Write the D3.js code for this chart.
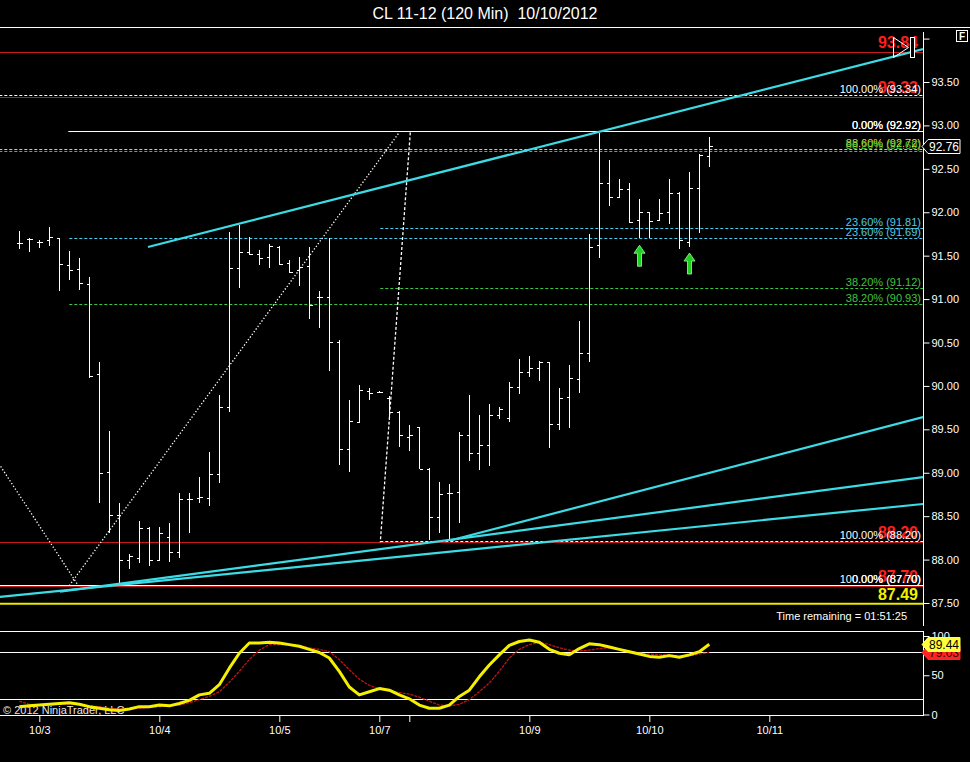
<!DOCTYPE html>
<html>
<head>
<meta charset="utf-8">
<title>CL 11-12 (120 Min) 10/10/2012</title>
<script src="https://cdn.jsdelivr.net/npm/d3@7"></script>
<style>
  body { margin: 0; background: #000; }
  svg { display: block; font-family: Arial, "Liberation Sans", sans-serif; }
</style>
</head>
<body>
<svg id="chart" width="970" height="762"></svg>
<script>
// 120 min OHLC bars (bar 0 = first visible bar)
const opens  = [91.65,91.69,91.66,91.68,91.70,91.39,91.35,91.17,90.14,89.01,
                88.51,87.99,88.02,88.36,88.00,88.26,88.09,88.70,88.71,88.71,
                88.99,89.76,91.36,91.54,91.52,91.48,91.60,91.42,91.33,91.38,
                91.02,91.02,90.51,89.27,89.58,89.94,89.93,89.86,89.70,89.41,
                89.53,89.04,88.49,88.77,88.78,89.44,89.23,89.32,89.66,89.63,
                89.99,90.16,90.21,90.27,89.56,89.87,90.08,90.38,91.62,92.34,
                92.18,92.27,91.91,92.00,91.91,92.00,92.22,91.66,92.28,92.65];
const highs  = [91.78,91.70,91.68,91.83,91.70,91.55,91.47,91.25,90.28,89.48,
                88.65,88.06,88.44,88.37,88.37,88.42,88.77,88.77,88.95,89.24,
                89.90,91.77,91.85,91.72,91.57,91.63,91.61,91.45,91.48,91.60,
                91.09,91.70,90.53,89.84,90.01,89.98,89.94,89.88,89.71,89.55,
                89.53,89.05,88.89,88.87,89.47,89.90,89.66,89.79,89.76,90.05,
                90.31,90.34,90.29,90.28,89.98,90.24,90.75,91.75,92.91,92.60,
                92.38,92.34,92.15,92.00,92.15,92.38,92.23,92.46,92.67,92.87];
const lows   = [91.58,91.54,91.59,91.61,91.09,91.22,91.10,90.09,88.65,88.31,
                87.72,87.89,87.96,87.93,87.98,87.97,88.02,88.31,88.65,88.62,
                88.88,89.70,91.13,91.51,91.39,91.36,91.39,91.30,91.15,90.77,
                90.67,90.17,89.09,89.01,89.58,89.84,89.92,89.61,89.30,89.25,
                89.04,88.23,88.31,88.22,88.42,89.13,89.03,89.08,89.62,89.58,
                89.91,90.10,90.06,89.29,89.49,89.52,89.92,90.28,91.47,92.07,
                92.16,91.88,91.70,91.70,91.90,91.86,91.58,91.60,91.76,92.52];
const closes = [91.65,91.69,91.66,91.71,91.40,91.33,91.18,90.11,89.00,88.51,
                87.99,88.04,88.36,87.99,88.31,88.09,88.70,88.70,88.72,88.99,
                89.76,91.36,91.54,91.52,91.47,91.61,91.40,91.31,91.37,90.93,
                91.02,90.51,89.27,89.60,89.95,89.92,89.93,89.70,89.43,89.43,
                89.04,88.49,88.76,88.77,89.43,89.23,89.32,89.66,89.73,89.99,
                90.16,90.21,90.27,89.56,89.86,90.09,90.38,91.60,92.34,92.18,
                92.27,91.89,92.00,91.90,91.99,92.22,91.68,92.28,92.66,92.76];

// stochastics panel
const stochK = [10,11,12,13,14,15,13,10,8,6,
                5,7,10,10,12,11,14,18,25,27,
                38,59,78,91,91,92,91,89,87,83,
                79,72,55,35,25,29,33,31,25,20,
                12,8,8,12,23,31,48,63,76,88,
                93,95,92,83,78,76,84,90,89,86,
                83,80,77,74,73,75,73,76,80,89.44];
const stochD = [17,13,12,12,13,13.5,13,11,10,8,
                7,7,8,9,10,11,12,15,19,23,
                29,41,55,70,82,89,89,89,87,85,
                83,80,70,57,45,37,33,30,28,26,
                22,17,12,11,13,19,29,40,55,72,
                83,89,92,89,85,82,81,82,84,85,
                83,81,78,77,76,76,74.5,74.5,77,79.03];
const stochLevels = [20, 80];

const dateTicks  = [2, 14, 26, 36, 39, 51, 63, 75];
const dateLabels = ["10/3", "10/4", "10/5", "10/7", "", "10/9", "10/10", "10/11"];
const priceTicks = [87.5, 88, 88.5, 89, 89.5, 90, 90.5, 91, 91.5, 92, 92.5, 93, 93.5, 94];
const stochTicks = [0, 50, 100];

// drawing objects, anchors are [bar, price]
const trendLines = [
  [[12.87, 91.60], [90.37, 93.88]],
  [[43.07, 88.22], [90.37, 89.64]],
  [[4.07, 87.63], [90.37, 88.95]],
  [[-1.93, 87.57], [90.37, 88.64]]
];
const fibAnchors = [
  [[-26, 93.34], [5.9, 87.70]],
  [[5.0, 87.70], [38.0, 92.92]],
  [[39.1, 92.92], [36.1, 88.20]]
];
const fibLevels = [
  [[93.34, "100.00%"], [92.72, "88.60%"], [92.69, "88.20%"], [87.70, "0.00%"]],
  [[92.92, "0.00%"], [91.69, "23.60%"], [90.93, "38.20%"], [87.70, "100.00%"]],
  [[92.92, "0.00%"], [91.81, "23.60%"], [91.12, "38.20%"], [88.20, "100.00%"]]
];
const redLevels = [93.84, 93.33, 88.20, 87.70];
const whiteLevels = [[92.92, 4.9], [87.70, -30]];
const yellowLevel = 87.49;
const arrowsUp = [[62, 91.62], [67, 91.53]];
const lastPrice = 92.76;
const timeRemaining = "01:51:25";

const W = 970, axisX = 923;
const svg = d3.select("#chart");
svg.append("rect").attr("width", W).attr("height", 762).attr("fill", "#000");

const x = d3.scaleLinear().domain([0, 69]).range([19.3, 709.3]);
const y = d3.scaleLinear().domain([87.5, 93.5]).range([603, 82]);
const ys = d3.scaleLinear().domain([0, 100]).range([714.5, 636]);
const py = v => Math.round(y(v)) + 0.5;

const defs = svg.append("defs");
defs.append("clipPath").attr("id", "pclip").append("rect")
    .attr("x", 0).attr("y", 28).attr("width", axisX).attr("height", 598);
defs.append("clipPath").attr("id", "sclip").append("rect")
    .attr("x", 0).attr("y", 632).attr("width", axisX).attr("height", 83);

const pct = {"0.00%": "#ffffff", "100.00%": "#ffffff", "23.60%": "#4ccbea",
             "38.20%": "#3fc43f", "88.60%": "#d8dc3a", "88.20%": "#3fc43f"};

// title and frame
svg.append("text").attr("x", 485).attr("y", 19).attr("text-anchor", "middle")
    .attr("fill", "#fff").style("font-size", "16px").style("white-space", "pre")
    .text("CL 11-12 (120 Min)  10/10/2012");
svg.append("line").attr("x1", 0).attr("x2", W).attr("y1", 27.5).attr("y2", 27.5)
    .attr("stroke", "#fff");
svg.append("rect").attr("x", 956.5).attr("y", 30.5).attr("width", 11).attr("height", 11)
    .attr("fill", "#000").attr("stroke", "#fff");
svg.append("text").attr("x", 962).attr("y", 40).attr("text-anchor", "middle")
    .attr("fill", "#fff").style("font-size", "10px").style("font-weight", "bold").text("F");

const pp = svg.append("g").attr("clip-path", "url(#pclip)");

pp.selectAll(".red").data(redLevels).join("line")
    .attr("x1", 0).attr("x2", axisX)
    .attr("y1", d => py(d)).attr("y2", d => py(d))
    .attr("stroke", "#c41a1a");
pp.append("line").attr("x1", 0).attr("x2", axisX)
    .attr("y1", y(yellowLevel)).attr("y2", y(yellowLevel))
    .attr("stroke", "#e8e800").attr("stroke-width", 2);

// fib horizontals
fibLevels.forEach((lv, k) => {
  const x0 = x(Math.min(fibAnchors[k][0][0], fibAnchors[k][1][0]));
  pp.selectAll(".fl" + k).data(lv).join("line")
      .attr("x1", x0).attr("x2", axisX)
      .attr("y1", d => py(d[0]) - 1).attr("y2", d => py(d[0]) - 1)
      .attr("stroke", d => pct[d[1]]).attr("stroke-dasharray", "3,2");
});
pp.selectAll(".wl").data(whiteLevels).join("line")
    .attr("x1", d => x(d[1])).attr("x2", axisX)
    .attr("y1", d => py(d[0]) - 1).attr("y2", d => py(d[0]) - 1)
    .attr("stroke", "#fff");

// OHLC bars
const bars = pp.append("g").attr("stroke", "#fff").attr("shape-rendering", "crispEdges");
opens.forEach((o, i) => {
  const cx = Math.round(x(i)) + 0.5;
  bars.append("line").attr("x1", cx).attr("x2", cx).attr("y1", y(highs[i])).attr("y2", y(lows[i]));
  bars.append("line").attr("x1", cx - 3).attr("x2", cx).attr("y1", py(o)).attr("y2", py(o));
  bars.append("line").attr("x1", cx).attr("x2", cx + 3).attr("y1", py(closes[i])).attr("y2", py(closes[i]));
});

// fib diagonals
pp.selectAll(".fd").data(fibAnchors).join("line")
    .attr("x1", d => x(d[0][0])).attr("y1", d => y(d[0][1]))
    .attr("x2", d => x(d[1][0])).attr("y2", d => y(d[1][1]))
    .attr("stroke", "#fff").attr("stroke-width", 1.3)
    .attr("stroke-dasharray", (d, i) => i === 2 ? "3,2" : "1.3,2");

// trend lines
pp.selectAll(".tl").data(trendLines).join("line")
    .attr("x1", d => x(d[0][0])).attr("y1", d => y(d[0][1]))
    .attr("x2", d => x(d[1][0])).attr("y2", d => y(d[1][1]))
    .attr("stroke", "#3cdce6").attr("stroke-width", 2.2);

// arrows
pp.selectAll(".ar").data(arrowsUp).join("path")
    .attr("transform", d => `translate(${Math.round(x(d[0])) + 0.5},${y(d[1])})`)
    .attr("d", "M0,0L5.5,8L2,8L2,21L-2,21L-2,8L-5.5,8Z")
    .attr("fill", "#1fcf1f").attr("stroke", "#9dff9d").attr("stroke-width", 0.8);

// labels
const lbl = pp.append("g").attr("text-anchor", "end");
lbl.selectAll(".rl").data(redLevels).join("text")
    .attr("x", 918).attr("y", d => y(d) - 4)
    .attr("fill", "#ff1e1e").style("font-size", "16px").style("font-weight", "bold")
    .text(d => d.toFixed(2));
fibLevels.forEach((lv, k) => {
  lbl.selectAll(".ft" + k).data(lv).join("text")
      .attr("x", 921).attr("y", d => y(d[0]) - 3)
      .attr("fill", d => pct[d[1]]).style("font-size", "11px")
      .text(d => d[1] + " (" + d[0].toFixed(2) + ")");
});
lbl.append("text").attr("x", 918).attr("y", y(yellowLevel) - 4)
    .attr("fill", "#f0f000").style("font-size", "16px").style("font-weight", "bold")
    .text(yellowLevel.toFixed(2));
lbl.append("text").attr("x", 907).attr("y", 620).attr("fill", "#fff")
    .style("font-size", "11px").text("Time remaining = " + timeRemaining);

// scroll markers at top right
pp.append("path").attr("d", "M893.5,37.5L908.5,47.5L893.5,57.5Z")
    .attr("fill", "none").attr("stroke", "#fff");
pp.append("rect").attr("x", 910.5).attr("y", 37.5).attr("width", 4).attr("height", 20)
    .attr("fill", "#000").attr("stroke", "#fff");

// price axis
svg.append("line").attr("x1", axisX + 0.5).attr("x2", axisX + 0.5).attr("y1", 32).attr("y2", 626)
    .attr("stroke", "#fff");
const pa = svg.append("g").attr("transform", `translate(${axisX + 0.5},0)`)
    .call(d3.axisRight(y).tickValues(priceTicks).tickSize(6).tickPadding(2)
      .tickFormat(d => d > 93.9 ? "" : d3.format(".2f")(d)));
pa.select(".domain").remove();
pa.selectAll("line").attr("stroke", "#fff");
pa.selectAll("text").attr("fill", "#fff").style("font-size", "11px").style("font-family", "Arial, 'Liberation Sans', sans-serif");

function marker(yy, fill, stroke, txtFill, txt) {
  const g = svg.append("g");
  g.append("path")
      .attr("d", `M${axisX - 1},${yy}L${axisX + 5},${yy - 7}L960,${yy - 7}L960,${yy + 7}L${axisX + 5},${yy + 7}Z`)
      .attr("fill", fill).attr("stroke", stroke);
  g.append("text").attr("x", axisX + 6).attr("y", yy + 4).attr("fill", txtFill)
      .style("font-size", "12px").text(txt);
}
marker(py(lastPrice), "#000", "#fff", "#fff", lastPrice.toFixed(2));

// stochastics panel
[631.5, 715.5].forEach(v => svg.append("line").attr("x1", 0).attr("x2", axisX)
    .attr("y1", v).attr("y2", v).attr("stroke", "#fff"));
svg.selectAll(".sl").data(stochLevels).join("line")
    .attr("x1", 0).attr("x2", axisX)
    .attr("y1", d => Math.round(ys(d)) + 0.5).attr("y2", d => Math.round(ys(d)) + 0.5)
    .attr("stroke", "#fff");
svg.append("text").attr("x", 3).attr("y", 714).attr("fill", "#e6e6e6")
    .style("font-size", "11px").text("© 2012 NinjaTrader, LLC");

const sp = svg.append("g").attr("clip-path", "url(#sclip)");
const sline = d3.line().x((d, i) => x(i)).y(d => ys(d));
sp.append("path").datum(stochD).attr("d", sline)
    .attr("fill", "none").attr("stroke", "#c01414").attr("stroke-width", 1.3)
    .attr("stroke-dasharray", "3,1");
sp.append("path").datum(stochK).attr("d", sline)
    .attr("fill", "none").attr("stroke", "#f4f000").attr("stroke-width", 3)
    .attr("stroke-linejoin", "round");

svg.append("line").attr("x1", axisX + 0.5).attr("x2", axisX + 0.5).attr("y1", 631).attr("y2", 716)
    .attr("stroke", "#fff");
const sa = svg.append("g").attr("transform", `translate(${axisX + 0.5},0)`)
    .call(d3.axisRight(ys).tickValues(stochTicks).tickSize(6).tickPadding(2).tickFormat(d3.format("d")));
sa.select(".domain").remove();
sa.selectAll("line").attr("stroke", "#fff");
sa.selectAll("text").attr("fill", "#fff").style("font-size", "11px").style("font-family", "Arial, 'Liberation Sans', sans-serif");

marker(Math.round(ys(stochD[stochD.length - 1])) + 0.5, "#ff2424", "#ff2424", "#300", stochD[stochD.length - 1].toFixed(2));
marker(Math.round(ys(stochK[stochK.length - 1])) + 0.5, "#ffff3c", "#ffff3c", "#000", stochK[stochK.length - 1].toFixed(2));

// date axis
const da = svg.append("g").attr("transform", "translate(0,716)")
    .call(d3.axisBottom(x).tickValues(dateTicks).tickSize(6).tickPadding(4)
      .tickFormat((d, i) => dateLabels[i]));
da.select(".domain").remove();
da.selectAll("line").attr("stroke", "#fff");
da.selectAll("text").attr("fill", "#fff").style("font-size", "11px").style("font-family", "Arial, 'Liberation Sans', sans-serif");
</script>
</body>
</html>
